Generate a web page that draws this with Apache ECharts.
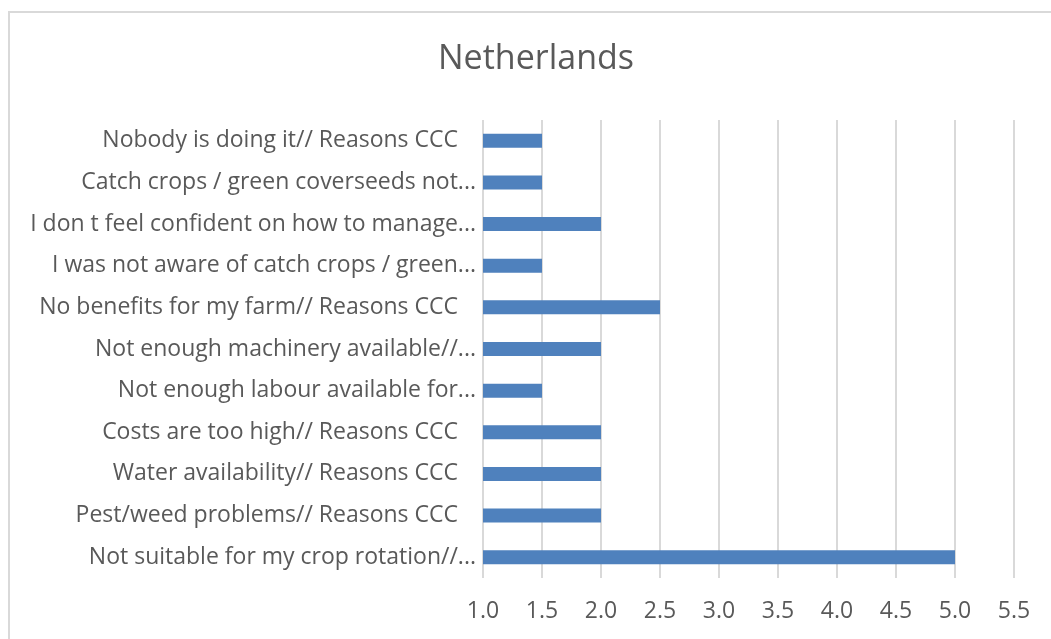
<!DOCTYPE html>
<html>
<head>
<meta charset="utf-8">
<script src="https://cdn.jsdelivr.net/npm/echarts@6/dist/echarts.min.js"></script>
<style>
  html, body { margin: 0; padding: 0; background: #fff; }
  #chart { width: 1051px; height: 639px; }
</style>
</head>
<body>
<div id="chart"></div>
<script>
const categories = [
    'Nobody is doing it// Reasons CCC',
    'Catch crops / green coverseeds not...',
    'I don t feel confident on how to manage...',
    'I was not aware of catch crops / green...',
    'No benefits for my farm// Reasons CCC',
    'Not enough machinery available//...',
    'Not enough labour available for...',
    'Costs are too high// Reasons CCC',
    'Water availability// Reasons CCC',
    'Pest/weed problems// Reasons CCC',
    'Not suitable for my crop rotation//...'
];
const values = [1.5, 1.5, 2.0, 1.5, 2.5, 2.0, 1.5, 2.0, 2.0, 2.0, 5.0];
const xMin = 1.0;
const xMax = 5.5;
const xStep = 0.5;

const chart = echarts.init(document.getElementById('chart'));
chart.setOption({
    animation: false,
    textStyle: {
        fontFamily: 'Open Sans'
    },
    title: {
        text: 'Netherlands',
        left: 531,
        textAlign: 'center',
        top: 37,
        textStyle: {
            fontSize: 34,
            fontWeight: 'normal',
            color: '#595959'
        }
    },
    graphic: [
        {
            type: 'rect',
            shape: { x: 9, y: 12, width: 1200, height: 800 },
            style: { fill: 'none', stroke: '#d9d9d9', lineWidth: 2 },
            silent: true
        }
    ],
    grid: {
        left: 483,
        right: 37,
        top: 120,
        bottom: 61
    },
    xAxis: {
        type: 'value',
        min: xMin,
        max: xMax,
        interval: xStep,
        axisLine: { show: false },
        axisTick: { show: false },
        splitLine: {
            lineStyle: { color: '#d9d9d9', width: 2 }
        },
        axisLabel: {
            margin: 22,
            fontSize: 23,
            color: '#595959',
            formatter: function (v) { return v.toFixed(1); }
        }
    },
    yAxis: {
        type: 'category',
        inverse: true,
        data: categories,
        axisLine: { show: false },
        axisTick: { show: false },
        axisLabel: {
            margin: 7,
            fontSize: 23,
            color: '#595959',
            formatter: function (v) {
                return v.endsWith('...') ? v : '{p|' + v + '}';
            },
            rich: {
                p: { fontSize: 23, color: '#595959', padding: [0, 18, 0, 0] }
            }
        }
    },
    series: [
        {
            type: 'bar',
            data: values,
            barWidth: 14,
            clip: true,
            itemStyle: { color: '#4F81BD' }
        }
    ]
});
</script>
</body>
</html>
